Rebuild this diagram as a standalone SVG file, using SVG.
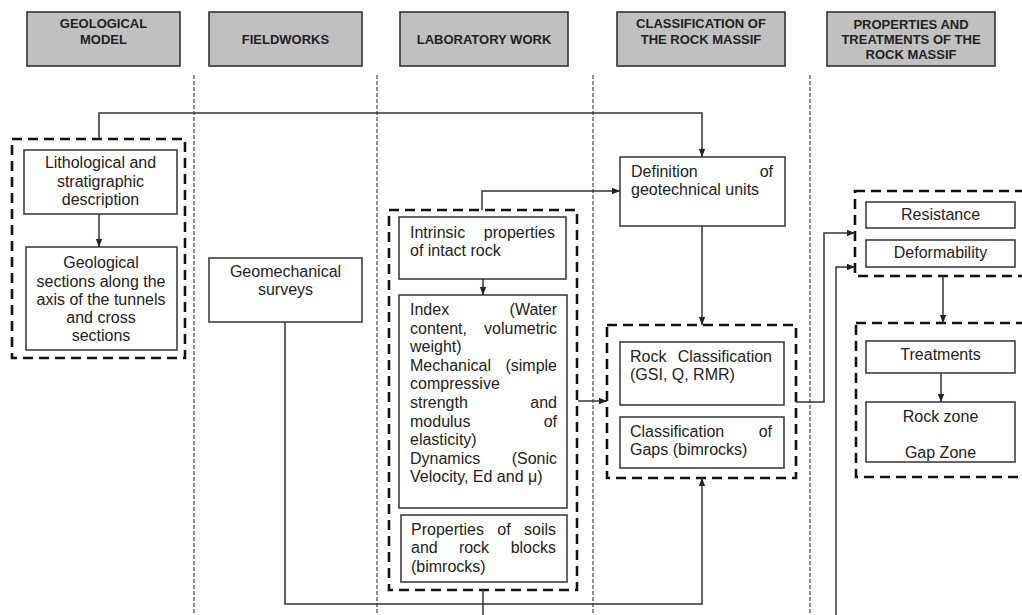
<svg xmlns="http://www.w3.org/2000/svg" width="1022" height="615" viewBox="0 0 1022 615">
<style>
.hdr rect{fill:#c0c0c0;stroke:#333;stroke-width:1.6}
.hdr text{font-family:"Liberation Sans",Arial,sans-serif;font-weight:bold;font-size:13px;fill:#222;text-anchor:middle}
.sep{stroke:#444;stroke-width:1.2;stroke-dasharray:4 2;fill:none}
.grp{fill:none;stroke:#111;stroke-width:2.6;stroke-dasharray:10 6}
.box{fill:#fff;stroke:#333;stroke-width:1.5}
.t{font-family:"Liberation Sans",Arial,sans-serif;font-size:16px;fill:#222}
.c{text-anchor:middle}
.r{text-anchor:end}
.m{text-anchor:middle}
.con path{fill:none;stroke:#333;stroke-width:1.5}
</style>
<defs>
<marker id="ah" markerUnits="userSpaceOnUse" markerWidth="8" markerHeight="8" viewBox="0 0 8 8" refX="8" refY="4" orient="auto">
<path d="M0,0.8 L8,4 L0,7.2 z" fill="#222"/>
</marker>
</defs>
<rect width="1022" height="615" fill="#fff"/>

<g id="separators">
<line class="sep" x1="194" y1="75" x2="194" y2="615"/>
<line class="sep" x1="377" y1="75" x2="377" y2="615"/>
<line class="sep" x1="593" y1="75" x2="593" y2="615"/>
<line class="sep" x1="810" y1="75" x2="810" y2="615"/>
</g>

<g id="hdr-geological" class="hdr"><rect x="27" y="12" width="153" height="54"/><text x="103.5" y="28">GEOLOGICAL</text><text x="103.5" y="44">MODEL</text></g>
<g id="hdr-fieldworks" class="hdr"><rect x="209" y="12" width="153" height="54"/><text x="285.5" y="44">FIELDWORKS</text></g>
<g id="hdr-laboratory" class="hdr"><rect x="400" y="12" width="168" height="54"/><text x="484" y="44">LABORATORY WORK</text></g>
<g id="hdr-classification" class="hdr"><rect x="617" y="12" width="168" height="54"/><text x="701" y="28">CLASSIFICATION OF</text><text x="701" y="44">THE ROCK MASSIF</text></g>
<g id="hdr-properties" class="hdr"><rect x="827" y="12" width="168" height="54"/><text x="911" y="29">PROPERTIES AND</text><text x="911" y="44">TREATMENTS OF THE</text><text x="911" y="58.5">ROCK MASSIF</text></g>

<g id="group-geological"><rect class="grp" x="12" y="139" width="173" height="219"/></g>
<g id="group-lab"><rect class="grp" x="389" y="210" width="188" height="380"/></g>
<g id="group-classification"><rect class="grp" x="607" y="325" width="189" height="153"/></g>
<g id="group-properties"><rect class="grp" x="855" y="191" width="180" height="85"/></g>
<g id="group-treatments"><rect class="grp" x="856" y="323" width="180" height="154"/></g>

<g id="lithological"><rect class="box" x="24" y="150" width="153" height="64"/>
<text class="t c" x="100.5" y="168">Lithological and</text>
<text class="t c" x="100.5" y="187">stratigraphic</text>
<text class="t c" x="100.5" y="205">description</text></g>

<g id="geological-sections"><rect class="box" x="26" y="247" width="151" height="103"/>
<text class="t c" x="101" y="268">Geological</text>
<text class="t c" x="101" y="287">sections along the</text>
<text class="t c" x="101" y="305">axis of the tunnels</text>
<text class="t c" x="101" y="323">and cross</text>
<text class="t c" x="101" y="341">sections</text></g>

<g id="geomechanical"><rect class="box" x="209" y="258" width="153" height="64"/>
<text class="t c" x="285.5" y="277">Geomechanical</text>
<text class="t c" x="285.5" y="295">surveys</text></g>

<g id="definition"><rect class="box" x="620" y="157" width="165" height="69"/>
<text class="t" x="631" y="177">Definition</text><text class="t r" x="773" y="177">of</text>
<text class="t" x="631" y="195">geotechnical units</text></g>

<g id="intrinsic"><rect class="box" x="399" y="217" width="167" height="62"/>
<text class="t" x="410" y="238">Intrinsic</text><text class="t r" x="555" y="238">properties</text>
<text class="t" x="410" y="256">of intact rock</text></g>

<g id="index"><rect class="box" x="399" y="295" width="168" height="213"/>
<text class="t" x="410" y="315">Index</text><text class="t r" x="557" y="315">(Water</text>
<text class="t" x="410" y="333.6">content,</text><text class="t r" x="557" y="333.6">volumetric</text>
<text class="t" x="410" y="352.2">weight)</text>
<text class="t" x="410" y="370.8">Mechanical</text><text class="t r" x="557" y="370.8">(simple</text>
<text class="t" x="410" y="389.4">compressive</text>
<text class="t" x="410" y="408">strength</text><text class="t r" x="557" y="408">and</text>
<text class="t" x="410" y="426.6">modulus</text><text class="t r" x="557" y="426.6">of</text>
<text class="t" x="410" y="445.2">elasticity)</text>
<text class="t" x="410" y="463.8">Dynamics</text><text class="t r" x="557" y="463.8">(Sonic</text>
<text class="t" x="410" y="482.4">Velocity, Ed and μ)</text></g>

<g id="soils"><rect class="box" x="401" y="515" width="166" height="67"/>
<text class="t" x="411" y="535">Properties</text><text class="t m" x="504" y="535">of</text><text class="t r" x="556" y="535">soils</text>
<text class="t" x="411" y="553">and</text><text class="t m" x="474" y="553">rock</text><text class="t r" x="556" y="553">blocks</text>
<text class="t" x="411" y="572">(bimrocks)</text></g>

<g id="rock-classification"><rect class="box" x="620" y="342" width="164" height="63"/>
<text class="t" x="630" y="362">Rock</text><text class="t r" x="772" y="362">Classification</text>
<text class="t" x="630" y="380">(GSI, Q, RMR)</text></g>

<g id="gaps-classification"><rect class="box" x="620" y="417" width="164" height="51"/>
<text class="t" x="630" y="437">Classification</text><text class="t r" x="772" y="437">of</text>
<text class="t" x="630" y="455">Gaps (bimrocks)</text></g>

<g id="resistance"><rect class="box" x="866" y="202" width="149" height="26"/>
<text class="t c" x="940.5" y="220">Resistance</text></g>
<g id="deformability"><rect class="box" x="866" y="240" width="149" height="27"/>
<text class="t c" x="940.5" y="258">Deformability</text></g>

<g id="treatments"><rect class="box" x="866" y="341" width="149" height="32"/>
<text class="t c" x="940.5" y="360">Treatments</text></g>
<g id="zones"><rect class="box" x="866" y="402" width="149" height="60"/>
<text class="t c" x="940.5" y="422">Rock zone</text>
<text class="t c" x="940.5" y="458">Gap Zone</text></g>

<g id="connectors" class="con">
<path d="M99,139 V113 H702 V157" marker-end="url(#ah)"/>
<path d="M99,214 V247" marker-end="url(#ah)"/>
<path d="M482,210 V191 H620" marker-end="url(#ah)"/>
<path d="M483,279 V295" marker-end="url(#ah)"/>
<path d="M578,401 H607" marker-end="url(#ah)"/>
<path d="M702,226 V325" marker-end="url(#ah)"/>
<path d="M285,322 V604 H702 V478" marker-end="url(#ah)"/>
<path d="M483,590 V615"/>
<path d="M796,402 H824 V233 H855" marker-end="url(#ah)"/>
<path d="M836,615 V267 H855" marker-end="url(#ah)"/>
<path d="M943,276 V323" marker-end="url(#ah)"/>
<path d="M941,373 V402" marker-end="url(#ah)"/>
</g>
</svg>
